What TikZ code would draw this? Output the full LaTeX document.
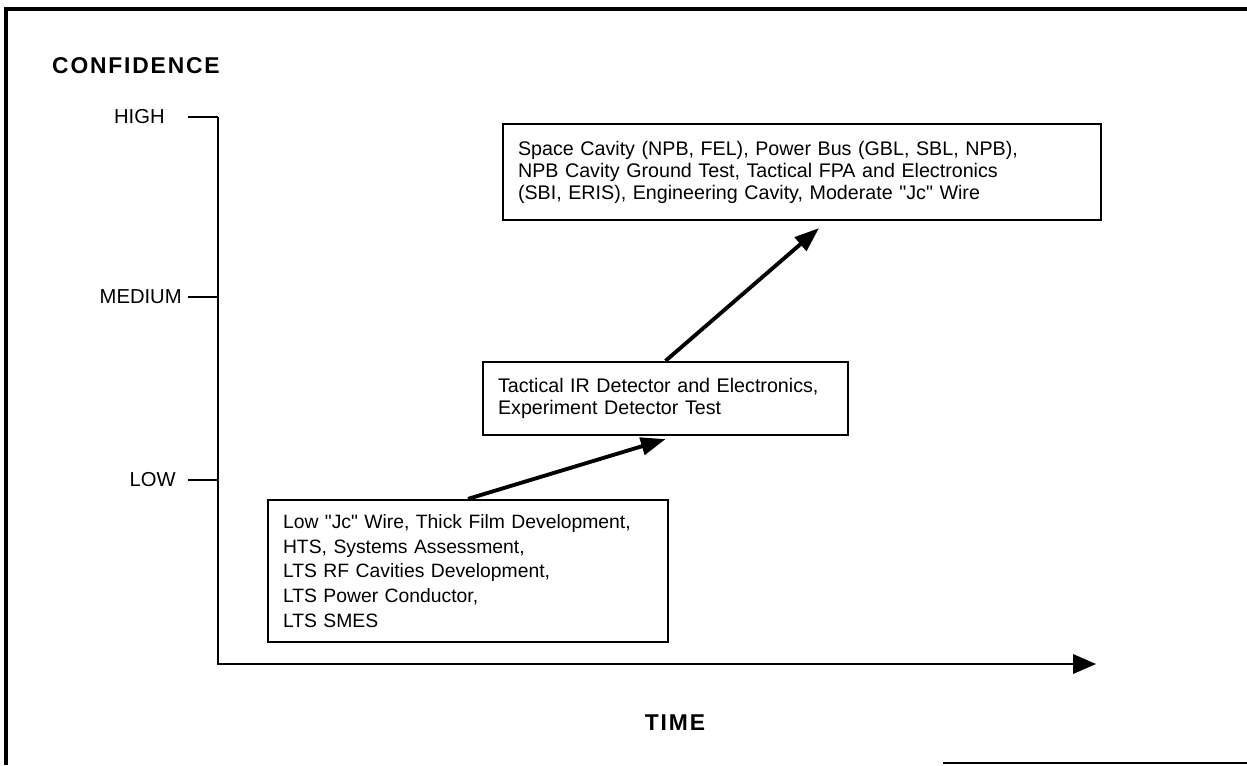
\documentclass[tikz,border=0pt]{standalone}
\usepackage{fontspec}
\setmainfont{Liberation Sans}[Ligatures=TeXOff]
\newfontfamily\spacedbold[LetterSpace=8]{Liberation Sans}
\usetikzlibrary{arrows.meta, positioning}

\begin{document}
\begin{tikzpicture}[
x=0.02cm, y=-0.02cm,
box/.style={draw, line width=1.3pt, rectangle, align=left, inner xsep=0.3cm, font=\fontsize{11.2}{12.5}\selectfont},
arrow/.style={-{Triangle[length=14pt, width=10pt]}, line width=2.2pt},
axis/.style={line width=1.2pt},
axislabel/.style={font=\spacedbold\bfseries\fontsize{13}{15}\selectfont},
level/.style={anchor=east, inner sep=0pt, font=\fontsize{11.5}{13}\selectfont}
]
\useasboundingbox (0,0) rectangle (1247,765);

% frame
\draw[line width=1.8pt] (6,765) -- (6,9) -- (1247,9);
\draw[line width=1.2pt] (943,763) -- (1247,763);

\node[axislabel, anchor=west] (confidence) at (46,66) {CONFIDENCE};
\node[axislabel] (time) at (675,723) {TIME};

% axes
\coordinate (ytop) at (218,117);
\coordinate (origin) at (218,664);
\coordinate (xend) at (1096,664);
\draw[axis, -{Triangle[length=13pt, width=11pt]}] (ytop) -- (origin) -- (xend);

\foreach \name/\y/\lx/\txt in {high/117/165/HIGH, medium/297/182/MEDIUM, low/480/176/LOW} {
  \coordinate (\name) at (218,\y);
  \draw[axis] (\name) -- ++(-30,0);
  \node[level] (\name label) at (\lx,\y) {\txt};
}

\node[box, text width=7.4cm, minimum height=2.84cm, font=\fontsize{11}{14}\selectfont] (lowbox) at (468,571)
{Low "Jc" Wire, Thick Film Development,\\
HTS, Systems Assessment,\\
LTS RF Cavities Development,\\
LTS Power Conductor,\\
LTS SMES};

\node[box, text width=6.7cm, minimum height=1.46cm] (midbox) at (665.5,398.5)
{Tactical IR Detector and Electronics,\\
Experiment Detector Test};

\node[box, text width=11.36cm, minimum height=1.92cm] (topbox) at (802,172)
{Space Cavity (NPB, FEL), Power Bus (GBL, SBL, NPB),\\
NPB Cavity Ground Test, Tactical FPA and Electronics\\
(SBI, ERIS), Engineering Cavity, Moderate "Jc" Wire};

\draw[arrow] (lowbox.north) -- ([yshift=-0.06cm]midbox.south);
\draw[arrow] (midbox.north) -- ([xshift=0.34cm, yshift=-0.14cm]topbox.south);

\end{tikzpicture}
\end{document}
